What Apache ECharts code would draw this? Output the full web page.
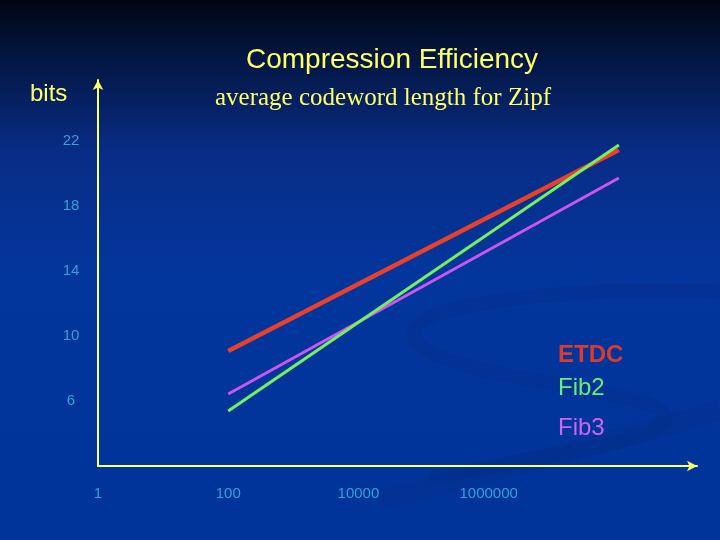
<!DOCTYPE html>
<html>
<head>
<meta charset="utf-8">
<script src="https://cdn.jsdelivr.net/npm/echarts@6/dist/echarts.min.js"></script>
<style>
  html, body { margin: 0; padding: 0; }
  #chart { width: 720px; height: 540px; }
</style>
</head>
<body>
<div id="chart"></div>
<script>
// vocabulary sizes (log x) and average codeword length in bits
const sizes = [100, 100000000];
const etdc = [9.08, 21.45];
const fib2 = [5.38, 21.75];
const fib3 = [6.43, 19.72];
const xLabels = [1, 100, 10000, 1000000];
const yLabels = [6, 10, 14, 18, 22];

const toPoints = ys => sizes.map((n, i) => [n, ys[i]]);

// faint background swoosh, drawn as a few bezier pieces
const swoosh = (x1, y1, cpx1, cpy1, cpx2, cpy2, x2, y2, w, op) => ({
  type: "bezierCurve", silent: true, z: -10,
  shape: { x1, y1, cpx1, cpy1, cpx2, cpy2, x2, y2 },
  style: { fill: null, stroke: "#022a80", lineWidth: w, opacity: op }
});

const chart = echarts.init(document.getElementById("chart"));
chart.setOption({
  backgroundColor: {
    type: "linear", x: 0, y: 0, x2: 0, y2: 1,
    colorStops: [
      { offset: 0, color: "#000513" },
      { offset: 0.1, color: "#03153f" },
      { offset: 0.28, color: "#082c86" },
      { offset: 0.5, color: "#03369c" },
      { offset: 1, color: "#00349a" }
    ]
  },
  animation: false,
  graphic: [
    swoosh(720, 292, 560, 286, 400, 305, 415, 338, 14, 0.3),
    swoosh(415, 338, 430, 378, 650, 388, 664, 414, 14, 0.3),
    swoosh(664, 414, 678, 440, 560, 452, 430, 478, 14, 0.3),
    swoosh(380, 500, 500, 470, 620, 440, 720, 410, 20, 0.28),
    {
      type: "text", left: 30, top: 82,
      style: { text: "bits", fill: "#ffff66", font: "24px 'Liberation Sans', Arial, sans-serif" }
    },
    {
      type: "text", left: 215, top: 86,
      style: { text: "average codeword length for Zipf", fill: "#ffff66", font: "25px 'Liberation Serif', 'Times New Roman', serif" }
    }
  ],
  title: {
    text: "Compression Efficiency",
    left: 241, top: 41,
    textStyle: { color: "#ffff66", fontSize: 28, fontWeight: "normal", fontFamily: "'Liberation Sans', Arial, sans-serif" }
  },
  legend: {
    orient: "vertical",
    left: 548, top: 338,
    icon: "none",
    itemWidth: 0,
    itemGap: 9,
    selectedMode: false,
    textStyle: { fontSize: 24, fontFamily: "'Liberation Sans', Arial, sans-serif" },
    data: [
      { name: "ETDC", textStyle: { color: "#dd3a2c", fontWeight: "bold" } },
      { name: "Fib2", textStyle: { color: "#66ee77" } },
      { name: "Fib3", textStyle: { color: "#cc66ee", lineHeight: 38 } }
    ]
  },
  grid: { left: 98, right: 23, top: 80, bottom: 74 },
  xAxis: {
    type: "log",
    logBase: 10,
    min: 1,
    max: Math.pow(10, 9.2),
    splitNumber: 5,
    axisLine: { show: true, symbol: ["none", "arrow"], symbolSize: [8, 10], lineStyle: { color: "#ffff66", width: 2 } },
    axisTick: { show: false },
    splitLine: { show: false },
    axisLabel: {
      margin: 20,
      color: "#35a0d8",
      fontSize: 15,
      fontFamily: "'Liberation Sans', Arial, sans-serif",
      showMaxLabel: false,
      formatter: v => (xLabels.indexOf(Math.round(v)) >= 0 ? String(Math.round(v)) : "")
    }
  },
  yAxis: {
    type: "value",
    min: 2,
    max: 25.75,
    interval: 4,
    axisLine: { show: true, symbol: ["none", "arrow"], symbolSize: [8, 10], lineStyle: { color: "#ffff66", width: 2 } },
    axisTick: { show: false },
    splitLine: { show: false },
    axisLabel: {
      margin: 27,
      align: "center",
      color: "#35a0d8",
      fontSize: 15,
      fontFamily: "'Liberation Sans', Arial, sans-serif",
      showMaxLabel: false,
      formatter: v => (yLabels.indexOf(v) >= 0 ? String(v) : "")
    }
  },
  series: [
    { name: "ETDC", type: "line", data: toPoints(etdc), showSymbol: false, color: "#e8402a", lineStyle: { width: 4.5, color: "#e8402a" }, z: 3 },
    { name: "Fib2", type: "line", data: toPoints(fib2), showSymbol: false, color: "#77f060", lineStyle: { width: 3, color: "#77f060" }, z: 4 },
    { name: "Fib3", type: "line", data: toPoints(fib3), showSymbol: false, color: "#cc55ee", lineStyle: { width: 3, color: "#cc55ee" }, z: 2 }
  ]
});
</script>
</body>
</html>
